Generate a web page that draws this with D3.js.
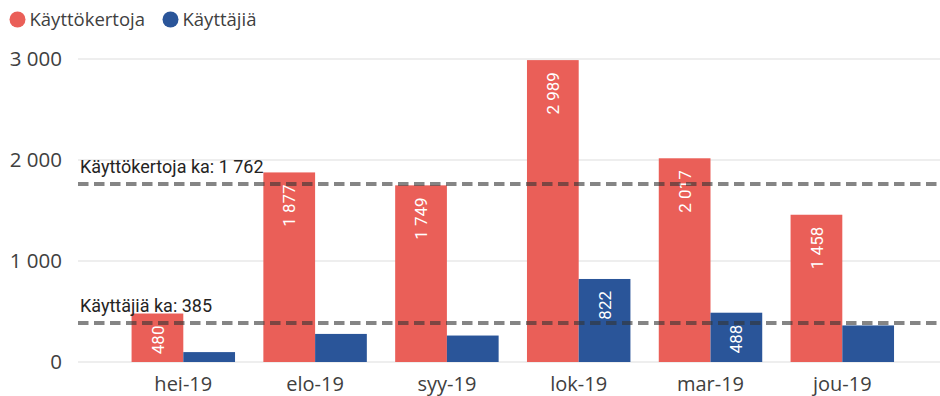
<!DOCTYPE html>
<html><head><meta charset="utf-8">
<script src="https://cdn.jsdelivr.net/npm/d3@7"></script>
<style>body{margin:0;background:#fff}svg{display:block}</style>
</head><body><svg id="c" width="940" height="396"></svg>
<script>
const categories = ["hei-19","elo-19","syy-19","lok-19","mar-19","jou-19"];
const seriesNames = ["Käyttökertoja","Käyttäjiä"];
const kayttokertoja = [480,1877,1749,2989,2017,1458];
const kayttajia = [98,278,262,822,488,362];
const yTicks = [0,1000,2000,3000];
const averages = [{label:"Käyttökertoja ka: 1 762", value:1762},{label:"Käyttäjiä ka: 385", value:385}];
const colors = ["#EA5F58","#2A5599"];

const svg = d3.select("#c");
const fmt = v => d3.format(",")(v).replace(/,/g," ");
const x = d3.scaleBand().domain(categories).range([117.4,908.2]).paddingInner(0.215).paddingOuter(0.1075);
const x1 = d3.scaleBand().domain(seriesNames).range([0,x.bandwidth()]);
const y = d3.scaleLinear().domain([0,3000]).range([362,59]);

// gridlines
svg.append("g").selectAll("line").data(yTicks).join("line")
  .attr("x1",78).attr("x2",940).attr("y1",d=>y(d)).attr("y2",d=>y(d))
  .attr("stroke","#e8e8e8").attr("stroke-width",1.5);
// y labels
svg.append("g").selectAll("text").data(yTicks).join("text")
  .attr("x",62).attr("y",d=>y(d)).attr("dy","0.36em").attr("text-anchor","end")
  .attr("font-family","'Open Sans',sans-serif").attr("font-size",20.5).attr("fill","#404040")
  .text(d=>fmt(d));
// x labels
svg.append("g").selectAll("text").data(categories).join("text")
  .attr("x",d=>x(d)+x.bandwidth()/2).attr("y",390.5).attr("text-anchor","middle")
  .attr("font-family","'Open Sans',sans-serif").attr("font-size",20).attr("fill","#404040")
  .text(d=>d);

const rows = categories.map((c,i)=>({c, vals:[kayttokertoja[i],kayttajia[i]]}));
const g = svg.append("g").selectAll("g").data(rows).join("g").attr("transform",d=>`translate(${x(d.c)},0)`);
const bars = g.selectAll("g").data(d=>d.vals.map((v,j)=>({v,s:seriesNames[j],j}))).join("g");
bars.append("rect").attr("x",d=>x1(d.s)).attr("width",x1.bandwidth())
  .attr("y",d=>y(d.v)).attr("height",d=>y(0)-y(d.v)).attr("fill",d=>colors[d.j]);
bars.filter(d=>(y(0)-y(d.v))>44).append("text")
  .attr("transform",d=>`translate(${x1(d.s)+x1.bandwidth()/2},${y(d.v)+12}) rotate(-90)`)
  .attr("dy","0.36em").attr("text-anchor","end")
  .attr("font-family","Roboto,sans-serif").attr("font-size",17).attr("fill","#fff")
  .text(d=>fmt(d.v));

// average lines
const av = svg.append("g").selectAll("g").data(averages).join("g");
av.append("line").attr("x1",78).attr("x2",940).attr("y1",d=>y(d.value)).attr("y2",d=>y(d.value))
  .attr("stroke","#333").attr("stroke-opacity",0.6).attr("stroke-width",4).attr("stroke-dasharray","10.5,5.5");
av.append("text").attr("x",80).attr("y",d=>y(d.value)-11)
  .attr("font-family","Roboto,sans-serif").attr("font-size",18).attr("fill","#252423")
  .text(d=>d.label);

// legend
const lg = svg.append("g");
const lx = [17.5,170.5];
seriesNames.forEach((s,i)=>{
  lg.append("circle").attr("cx",lx[i]).attr("cy",19.5).attr("r",8).attr("fill",colors[i]);
  lg.append("text").attr("x",lx[i]+12).attr("y",19.5).attr("dy","0.36em")
    .attr("font-family","'Open Sans',sans-serif").attr("font-size",18.5).attr("fill","#404040").text(s);
});
</script></body></html>
